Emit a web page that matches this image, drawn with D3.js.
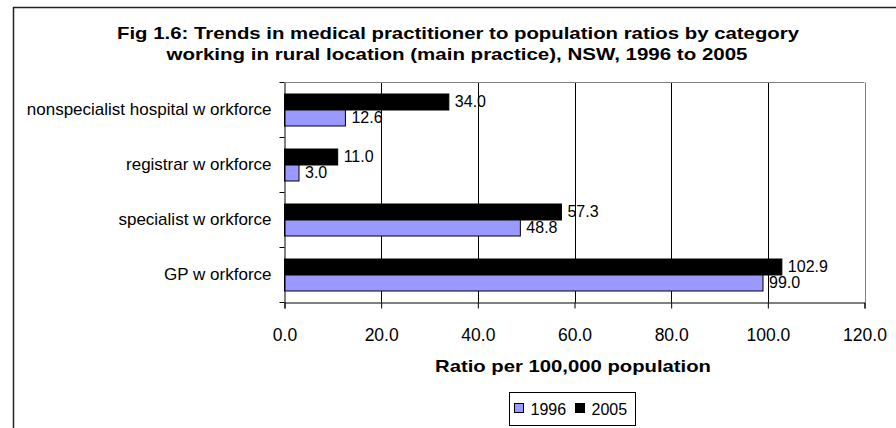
<html>
<head>
<script src="https://d3js.org/d3.v7.min.js"></script>
<style>
  body { margin: 0; background: #fff; }
  text { font-family: "Liberation Sans", Arial, sans-serif; fill: #000; }
</style>
</head>
<body>
<script>
// data
var categories = ["nonspecialist hospital w orkforce", "registrar w orkforce", "specialist w orkforce", "GP w orkforce"];
var series = ["2005", "1996"];
var values1996 = [12.6, 3.0, 48.8, 99.0];
var values2005 = [34.0, 11.0, 57.3, 102.9];
var xTicks = [0, 20, 40, 60, 80, 100, 120];
var colors = {"1996": "#9999ff", "2005": "#000000"};

var W = 896, H = 428;
var plot = {left: 284.5, right: 864.5, top: 82.5, bottom: 302.5};

var svg = d3.select("body").append("svg")
  .attr("width", W).attr("height", H);

// chart frame
svg.append("rect")
  .attr("x", 13.5).attr("y", 7.5)
  .attr("width", 900).attr("height", 440)
  .attr("fill", "none").attr("stroke", "#222").attr("stroke-width", 1.5);

// title (bold text in the original is rendered wide)
var title = svg.append("text")
  .attr("text-anchor", "middle")
  .style("font-weight", "bold").style("font-size", "16.5px");
title.append("tspan").attr("x", 458).attr("y", 39)
  .attr("textLength", 682).attr("lengthAdjust", "spacingAndGlyphs")
  .text("Fig 1.6: Trends in medical practitioner to population ratios by category");
title.append("tspan").attr("x", 457).attr("y", 60)
  .attr("textLength", 581).attr("lengthAdjust", "spacingAndGlyphs")
  .text("working in rural location (main practice), NSW, 1996 to 2005");

var x = d3.scaleLinear().domain([0, 120]).range([plot.left, plot.right]);
var y = d3.scaleBand().domain(categories).range([plot.top, plot.bottom]);
var y1 = d3.scaleBand().domain(series).range([0, 32]);

// gridlines
svg.append("g").selectAll("line")
  .data(xTicks.slice(1))
  .join("line")
  .attr("x1", function(d){ return Math.round(x(d)) + 0.5; })
  .attr("x2", function(d){ return Math.round(x(d)) + 0.5; })
  .attr("y1", plot.top).attr("y2", plot.bottom)
  .attr("stroke", function(d){ return d == 120 ? "#808080" : "#000"; });

// top border of plot area
svg.append("line")
  .attr("x1", plot.left).attr("x2", plot.right)
  .attr("y1", plot.top).attr("y2", plot.top)
  .attr("stroke", "#808080");

// bars
var rows = categories.map(function(c, i){
  return {cat: c, vals: [{s: "2005", v: values2005[i]}, {s: "1996", v: values1996[i]}]};
});

var groups = svg.append("g").selectAll("g")
  .data(rows)
  .join("g")
  .attr("transform", function(d){ return "translate(0," + (y(d.cat) + (y.bandwidth() - 32) / 2) + ")"; });

groups.selectAll("rect")
  .data(function(d){ return d.vals; })
  .join("rect")
  .attr("x", x(0))
  .attr("y", function(d){ return y1(d.s); })
  .attr("width", function(d){ return x(d.v) - x(0); })
  .attr("height", y1.bandwidth())
  .attr("fill", function(d){ return colors[d.s]; })
  .attr("stroke", "#000").attr("stroke-width", 1);

groups.selectAll("text")
  .data(function(d){ return d.vals; })
  .join("text")
  .attr("x", function(d){ return x(d.v) + 6; })
  .attr("y", function(d){ return y1(d.s) + y1.bandwidth() / 2; })
  .attr("dy", "0.3em")
  .style("font-size", "16px")
  .text(function(d){ return d.v.toFixed(1); });

// x axis
var xAxis = svg.append("g")
  .attr("transform", "translate(0," + plot.bottom + ")")
  .call(d3.axisBottom(x).tickValues(xTicks).tickSize(6).tickPadding(20)
    .tickFormat(function(d){ return d.toFixed(1); }));
xAxis.select(".domain").attr("stroke", "#000");
xAxis.selectAll("text").style("font-size", "17.5px").style("font-family", "Liberation Sans, Arial, sans-serif");

// y axis
var yAxis = svg.append("g")
  .attr("transform", "translate(" + plot.left + ",0)")
  .call(d3.axisLeft(y).tickSize(0).tickPadding(13));
yAxis.select(".domain").attr("stroke", "#000");
yAxis.selectAll("text").style("font-size", "17px").style("font-family", "Liberation Sans, Arial, sans-serif");
// ticks at band edges
yAxis.append("g").selectAll("line")
  .data(categories.concat([null]))
  .join("line")
  .attr("x1", -5).attr("x2", 0)
  .attr("y1", function(d, i){ return plot.top + i * y.step(); })
  .attr("y2", function(d, i){ return plot.top + i * y.step(); })
  .attr("stroke", "#000");

// axis title
svg.append("text")
  .attr("x", 573).attr("y", 372)
  .attr("text-anchor", "middle")
  .attr("textLength", 276).attr("lengthAdjust", "spacingAndGlyphs")
  .style("font-weight", "bold").style("font-size", "16.5px")
  .text("Ratio per 100,000 population");

// legend
var legend = svg.append("g").attr("transform", "translate(509.5,392.5)");
legend.append("rect")
  .attr("width", 126).attr("height", 33)
  .attr("fill", "#fff").attr("stroke", "#000");
var legItems = [{s: "1996", x: 5}, {s: "2005", x: 66}];
var li = legend.selectAll("g.item")
  .data(legItems)
  .join("g")
  .attr("class", "item")
  .attr("transform", function(d){ return "translate(" + d.x + ",0)"; });
li.append("rect")
  .attr("x", 0).attr("y", 11).attr("width", 9).attr("height", 9)
  .attr("fill", function(d){ return colors[d.s]; })
  .attr("stroke", "#000");
li.append("text")
  .attr("x", 16).attr("y", 22)
  .style("font-size", "16px")
  .text(function(d){ return d.s; });
</script>
</body>
</html>
